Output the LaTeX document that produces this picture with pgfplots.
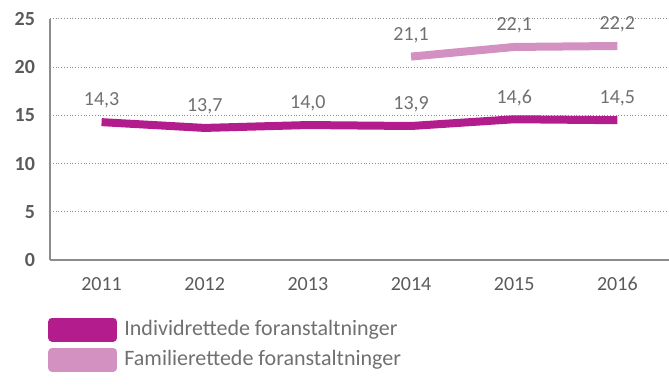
\documentclass[border=0pt]{standalone}
\usepackage{pgfplots}
\pgfplotsset{compat=1.18}
\usepackage{fontspec}
\setmainfont{Carlito}
\definecolor{indiv}{HTML}{B31C8C}
\definecolor{famil}{HTML}{D291C0}
\definecolor{axisgray}{HTML}{8C8C8C}
\definecolor{ticktext}{HTML}{5A5A5A}
\definecolor{valtext}{HTML}{707070}

\pgfplotstableread{
year value
2011 14.3
2012 13.7
2013 14.0
2014 13.9
2015 14.6
2016 14.5
}\individ

\pgfplotstableread{
year value
2014 21.1
2015 22.1
2016 22.2
}\familie

\begin{document}
\begin{tikzpicture}
\begin{axis}[
  scale only axis,
  width=309.5pt, height=120.5pt,
  xmin=2010.5, xmax=2016.5,
  ymin=0, ymax=25,
  xtick={2011,...,2016},
  xticklabel style={/pgf/number format/1000 sep={}, font=\fontsize{10}{12}\selectfont, text=ticktext, yshift=-5pt},
  ytick={0,5,...,25},
  yticklabel style={font=\fontsize{10}{12}\selectfont\bfseries, text=ticktext, xshift=-4pt},
  /pgf/number format/assume math mode=true,
  major tick length=0pt,
  axis x line*=bottom,
  axis y line*=left,
  axis line style={axisgray, line width=0.8pt},
  ymajorgrids,
  grid style={axisgray, densely dotted, line width=0.5pt},
  clip=false,
  nodes near coords,
  nodes near coords style={font=\fontsize{10}{12}\selectfont, text=valtext, anchor=south, yshift=1.5pt,
    /pgf/number format/.cd, fixed, fixed zerofill, precision=1, use comma},
  legend style={at={(0,0)}, anchor=north west, xshift=-4pt, yshift=-26pt, draw=none, fill=none,
    font=\fontsize{11}{13}\selectfont, text=valtext, row sep=2pt},
  legend cell align=left,
  legend image code/.code={\fill[#1] (0pt,-4pt) rectangle (30.5pt,4pt);},
  legend style={nodes={inner xsep=3.5pt}},
]
\addplot[indiv, line width=4pt, line cap=butt, line join=round, mark=none] table[x=year, y=value] {\individ};
\addlegendentry{Individrettede foranstaltninger}
\addplot[famil, line width=4pt, line cap=butt, line join=round, mark=none] table[x=year, y=value] {\familie};
\addlegendentry{Familierettede foranstaltninger}
\end{axis}
\pgfresetboundingbox
\path (-25pt,-64.5pt) rectangle (309.5pt,130pt);
\end{tikzpicture}
\end{document}
